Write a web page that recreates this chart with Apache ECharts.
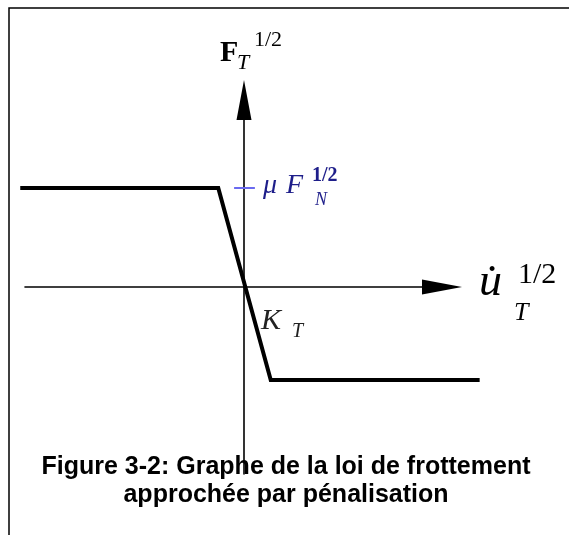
<!DOCTYPE html>
<html>
<head>
<meta charset="utf-8">
<style>
  html, body { margin: 0; padding: 0; background: #fff; }
  #chart { width: 569px; height: 535px; }
</style>
<script src="https://cdn.jsdelivr.net/npm/echarts@6/dist/echarts.min.js"></script>
</head>
<body>
<div id="chart"></div>
<script>
// friction law, regularised (1 unit = plateau height)
var slipRate = [-2.26, -0.26, 0.27, 2.38];
var friction = [1, 1, -0.94, -0.94];
// short tick marking the plateau level on the vertical axis
var tickX = [-0.1, 0.11];
var tickY = [1, 1];

var lawData = slipRate.map(function (x, i) { return [x, friction[i]]; });
var tickData = tickX.map(function (x, i) { return [x, tickY[i]]; });

var serif = "Liberation Serif";
var navy = "#1e1e8a";

function hiddenAxis(extra) {
  var ax = {
    type: "value",
    axisLine: { show: false },
    axisTick: { show: false },
    axisLabel: { show: false },
    splitLine: { show: false }
  };
  for (var k in extra) ax[k] = extra[k];
  return ax;
}

var arrowLine = {
  onZero: true,
  symbol: ["none", "triangle"],
  symbolSize: [15, 40],
  lineStyle: { color: "#000", width: 1.6 }
};

var chart = echarts.init(document.getElementById("chart"));
chart.setOption({
  animation: false,
  backgroundColor: "#fff",
  title: {
    text: "Figure 3-2: Graphe de la loi de frottement\napprochée par pénalisation",
    left: 281,
    top: 448,
    textAlign: "center",
    textStyle: {
      fontFamily: "Liberation Sans",
      fontWeight: "bold",
      fontSize: 25,
      lineHeight: 28,
      color: "#000"
    }
  },
  // grid 0 carries the drawn axes, grid 1 (same scale, wider) carries the curve
  grid: [
    { left: 25, right: 127, top: 100, bottom: 61, outerBoundsMode: "none" },
    { left: 15, right: 84, top: 100, bottom: 61, outerBoundsMode: "none" }
  ],
  xAxis: [
    {
      type: "value", gridIndex: 0, min: -2.212, max: 2.0,
      axisLine: arrowLine,
      axisTick: { show: false }, axisLabel: { show: false }, splitLine: { show: false }
    },
    hiddenAxis({ gridIndex: 1, min: -2.313, max: 2.434 })
  ],
  yAxis: [
    {
      type: "value", gridIndex: 0, min: -1.889, max: 1.889,
      axisLine: arrowLine,
      axisTick: { show: false }, axisLabel: { show: false }, splitLine: { show: false }
    },
    hiddenAxis({ gridIndex: 1, min: -1.889, max: 1.889 })
  ],
  series: [
    {
      name: "loi",
      type: "line",
      xAxisIndex: 1,
      yAxisIndex: 1,
      data: lawData,
      symbol: "none",
      clip: false,
      lineStyle: { color: "#000", width: 4, join: "miter" },
      z: 3
    },
    {
      name: "tick",
      type: "line",
      xAxisIndex: 0,
      yAxisIndex: 0,
      data: tickData,
      symbol: "none",
      clip: false,
      lineStyle: { color: "#6a6af0", width: 2 },
      z: 2
    }
  ],
  graphic: [
    // frame
    { type: "rect", shape: { x: 9, y: 8, width: 600, height: 600 },
      style: { fill: null, stroke: "#000", lineWidth: 1.5 }, silent: true },
    // F_T^{1/2}
    { type: "text", x: 220, y: 53, style: { text: "F", font: "bold 30px " + serif, fill: "#000", verticalAlign: "middle" } },
    { type: "text", x: 237, y: 63, style: { text: "T", font: "italic 22px " + serif, fill: "#000", verticalAlign: "middle" } },
    { type: "text", x: 254, y: 40, style: { text: "1/2", font: "22px " + serif, fill: "#000", verticalAlign: "middle" } },
    // mu F_N^{1/2}
    { type: "text", x: 263, y: 186, style: { text: "μ", font: "italic 28px " + serif, fill: navy, verticalAlign: "middle" } },
    { type: "text", x: 286, y: 186, style: { text: "F", font: "italic 28px " + serif, fill: navy, verticalAlign: "middle" } },
    { type: "text", x: 312, y: 176, style: { text: "1/2", font: "bold 20px " + serif, fill: navy, verticalAlign: "middle" } },
    { type: "text", x: 315, y: 200, style: { text: "N", font: "italic 18px " + serif, fill: navy, verticalAlign: "middle" } },
    // u dot_T^{1/2}
    { type: "text", x: 479, y: 283, style: { text: "u\u0307", font: "italic 46px " + serif, fill: "#000", verticalAlign: "middle" } },
    { type: "text", x: 518, y: 275, style: { text: "1/2", font: "30px " + serif, fill: "#000", verticalAlign: "middle" } },
    { type: "text", x: 514, y: 313, style: { text: "T", font: "italic 26px " + serif, fill: "#000", verticalAlign: "middle" } },
    // K_T
    { type: "text", x: 261, y: 321, style: { text: "K", font: "italic 30px " + serif, fill: "#222", verticalAlign: "middle" } },
    { type: "text", x: 292, y: 332, style: { text: "T", font: "italic 20px " + serif, fill: "#222", verticalAlign: "middle" } }
  ]
});
</script>
</body>
</html>
